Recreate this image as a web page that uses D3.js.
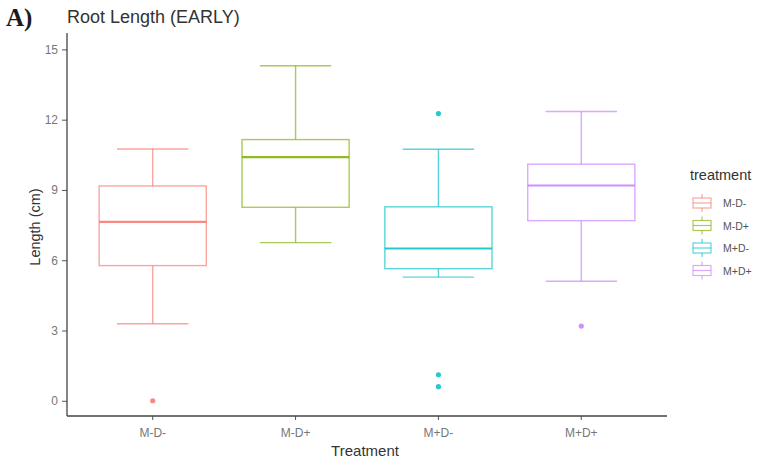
<!DOCTYPE html>
<html>
<head>
<meta charset="utf-8">
<script src="https://cdn.jsdelivr.net/npm/d3@7"></script>
<style>
body{margin:0;background:#fff;}
svg{display:block;font-family:"Liberation Sans",Arial,sans-serif;}
</style>
</head>
<body>
<svg id="chart"></svg>
<script>
// box statistics (cm)
const categories = ["M-D-","M-D+","M+D-","M+D+"];
const whisker_low = [3.29,6.75,5.28,5.10];
const q1 = [5.77,8.26,5.64,7.69];
const medians = [7.64,10.40,6.50,9.19];
const q3 = [9.17,11.15,8.28,10.10];
const whisker_high = [10.75,14.30,10.74,12.35];
const outliers = [[0.0],[],[12.26,1.11,0.60],[3.19]];
const colors = ["#F8766D","#7CAE00","#00BFC4","#C77CFF"];
const y_ticks = [0,3,6,9,12,15];

const width = 759, height = 464;
const panel = {left:67,right:667,top:33,bottom:416};

const svg = d3.select("#chart").attr("width",width).attr("height",height);

const xscale = d3.scaleBand()
    .domain(categories)
    .range([panel.left,panel.right])
    .paddingInner(0)
    .paddingOuter(0.1);
const yscale = d3.scaleLinear()
    .domain([-0.65,15.7])
    .range([panel.bottom,panel.top]);

const boxes = categories.map((c,i)=>({
    cat:c,lo:whisker_low[i],q1:q1[i],med:medians[i],q3:q3[i],hi:whisker_high[i],
    out:outliers[i],color:colors[i]
}));

const step = xscale.step();
const box_w = step*0.75, bar_w = step*0.5;
const cx = d => xscale(d.cat)+xscale.bandwidth()/2;

const g = svg.append("g");
const box = g.selectAll("g.box").data(boxes).join("g").attr("class","box");

// whiskers
box.append("line")
    .attr("x1",cx).attr("x2",cx)
    .attr("y1",d=>yscale(d.hi)).attr("y2",d=>yscale(d.q3))
    .attr("stroke",d=>d.color).attr("stroke-opacity",0.65).attr("stroke-width",1.4);
box.append("line")
    .attr("x1",cx).attr("x2",cx)
    .attr("y1",d=>yscale(d.q1)).attr("y2",d=>yscale(d.lo))
    .attr("stroke",d=>d.color).attr("stroke-opacity",0.65).attr("stroke-width",1.4);
box.append("line")
    .attr("x1",d=>cx(d)-bar_w/2).attr("x2",d=>cx(d)+bar_w/2)
    .attr("y1",d=>yscale(d.hi)).attr("y2",d=>yscale(d.hi))
    .attr("stroke",d=>d.color).attr("stroke-opacity",0.65).attr("stroke-width",1.4);
box.append("line")
    .attr("x1",d=>cx(d)-bar_w/2).attr("x2",d=>cx(d)+bar_w/2)
    .attr("y1",d=>yscale(d.lo)).attr("y2",d=>yscale(d.lo))
    .attr("stroke",d=>d.color).attr("stroke-opacity",0.65).attr("stroke-width",1.4);
// box
box.append("rect")
    .attr("x",d=>cx(d)-box_w/2).attr("width",box_w)
    .attr("y",d=>yscale(d.q3)).attr("height",d=>yscale(d.q1)-yscale(d.q3))
    .attr("fill","#fff")
    .attr("stroke",d=>d.color).attr("stroke-opacity",0.65).attr("stroke-width",1.4);
// median
box.append("line")
    .attr("x1",d=>cx(d)-box_w/2).attr("x2",d=>cx(d)+box_w/2)
    .attr("y1",d=>yscale(d.med)).attr("y2",d=>yscale(d.med))
    .attr("stroke",d=>d.color).attr("stroke-opacity",0.85).attr("stroke-width",2.2);
// outliers
box.selectAll("circle")
    .data(d=>d.out.map(v=>({v:v,d:d})))
    .join("circle")
    .attr("cx",o=>cx(o.d)).attr("cy",o=>yscale(o.v))
    .attr("r",2.6)
    .attr("fill",o=>o.d.color).attr("fill-opacity",0.85);

// axes
const xaxis = d3.axisBottom(xscale).tickSize(4).tickPadding(8);
const yaxis = d3.axisLeft(yscale).tickValues(y_ticks).tickSize(5).tickPadding(4);

const xg = svg.append("g").attr("transform",`translate(0,${panel.bottom})`).call(xaxis);
const yg = svg.append("g").attr("transform",`translate(${panel.left},0)`).call(yaxis);
[xg,yg].forEach(a=>{
    a.select(".domain").remove();
    a.selectAll(".tick line").attr("stroke","#555");
    a.selectAll(".tick text").attr("fill","#777").attr("font-size",12)
        .attr("font-family","'Liberation Sans',Arial,sans-serif");
});
svg.append("line")
    .attr("x1",panel.left).attr("x2",panel.right)
    .attr("y1",panel.bottom).attr("y2",panel.bottom)
    .attr("stroke","#444").attr("stroke-width",1.3);
svg.append("line")
    .attr("x1",panel.left).attr("x2",panel.left)
    .attr("y1",panel.top).attr("y2",panel.bottom)
    .attr("stroke","#444").attr("stroke-width",1.3);

// titles
svg.append("text")
    .attr("x",6).attr("y",26)
    .attr("font-family","'Liberation Serif','Times New Roman',serif")
    .attr("font-weight","bold").attr("font-size",25)
    .attr("fill","#1a1a1a")
    .text("A)");
svg.append("text")
    .attr("x",67).attr("y",23)
    .attr("font-size",18).attr("fill","#333")
    .text("Root Length (EARLY)");
svg.append("text")
    .attr("x",365).attr("y",456)
    .attr("text-anchor","middle")
    .attr("font-size",15).attr("fill","#333")
    .text("Treatment");
svg.append("text")
    .attr("transform",`translate(40,227) rotate(-90)`)
    .attr("text-anchor","middle")
    .attr("font-size",14.5).attr("fill","#333")
    .text("Length (cm)");

// legend
const legend = svg.append("g").attr("transform","translate(692,0)");
legend.append("text")
    .attr("x",-2).attr("y",180)
    .attr("font-size",14.5).attr("fill","#333")
    .text("treatment");
const key = legend.selectAll("g.key").data(boxes).join("g")
    .attr("class","key")
    .attr("transform",(d,i)=>`translate(0,${203+i*22.5})`);
key.append("line")
    .attr("x1",10).attr("x2",10).attr("y1",-9).attr("y2",9)
    .attr("stroke",d=>d.color).attr("stroke-opacity",0.65).attr("stroke-width",1.2);
key.append("rect")
    .attr("x",1).attr("y",-5).attr("width",18).attr("height",10)
    .attr("fill","#fff")
    .attr("stroke",d=>d.color).attr("stroke-opacity",0.65).attr("stroke-width",1.2);
key.append("line")
    .attr("x1",1).attr("x2",19).attr("y1",0).attr("y2",0)
    .attr("stroke",d=>d.color).attr("stroke-opacity",0.65).attr("stroke-width",1.2);
key.append("text")
    .attr("x",31).attr("y",4)
    .attr("font-size",10.5).attr("fill","#555")
    .text(d=>d.cat);
</script>
</body>
</html>
